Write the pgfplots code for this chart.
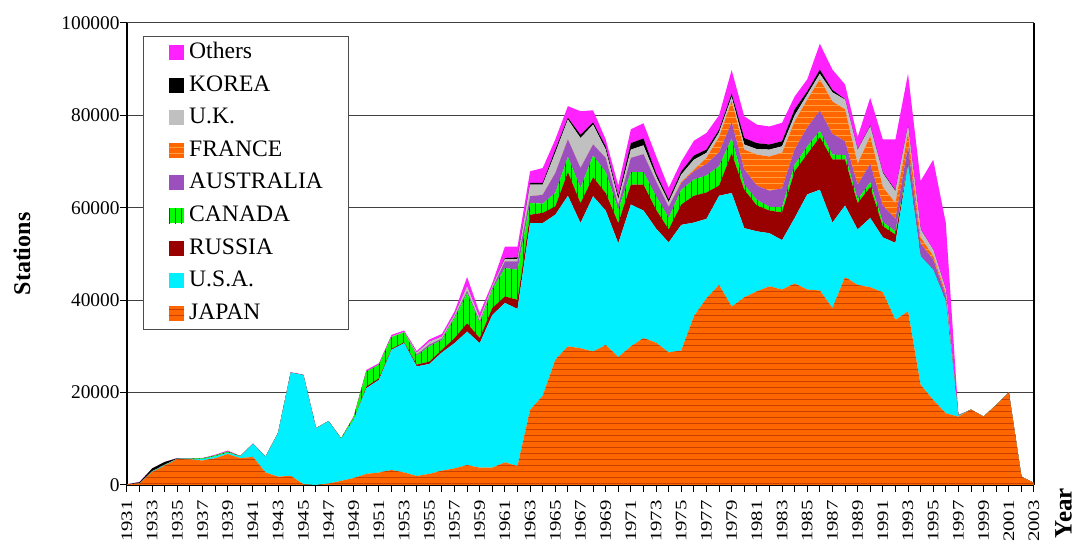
\documentclass[border=0pt]{standalone}
\usepackage{fontspec}
\setmainfont{Liberation Serif}
\usepackage{pgfplots}
\pgfplotsset{compat=1.18}
\usepackage{pgfplotstable}
\usetikzlibrary{patterns}

\definecolor{jp}{HTML}{FF6600}
\definecolor{jpd}{HTML}{C84000}
\definecolor{us}{HTML}{00F0FF}
\definecolor{ru}{HTML}{990000}
\definecolor{ca}{HTML}{00FF00}
\definecolor{cad}{HTML}{006600}
\definecolor{au}{HTML}{9C50BE}
\definecolor{fr}{HTML}{FF6600}
\definecolor{frl}{HTML}{FFA040}
\definecolor{uk}{HTML}{C0C0C0}
\definecolor{ko}{HTML}{000000}
\definecolor{ot}{HTML}{FF22FF}

\pgfplotstableread{
year J U R C A F K KO O
1931 100 0 0 0 0 0 0 50 0
1932 300 0 0 0 0 0 0 300 100
1933 2800 100 0 0 0 0 100 600 0
1934 4200 100 0 0 0 0 100 600 0
1935 5600 100 0 0 0 0 0 100 50
1936 5550 150 0 50 0 0 0 0 50
1937 5300 300 0 150 0 0 0 0 100
1938 5800 400 0 200 0 0 0 0 150
1939 6700 300 0 200 50 0 0 0 200
1940 5800 400 0 50 0 0 0 0 50
1941 6100 2800 0 0 0 0 0 0 100
1942 2700 3400 0 0 0 0 0 0 50
1943 1800 9500 0 0 0 0 0 0 50
1944 2000 22300 0 0 0 0 0 0 100
1945 150 23650 0 0 0 0 0 0 100
1946 0 12300 0 0 0 0 0 0 0
1947 300 13500 0 0 0 0 0 0 50
1948 900 9100 0 100 0 0 0 0 0
1949 1500 12600 0 600 0 0 0 0 200
1950 2400 18550 350 3260 0 0 0 0 340
1951 2700 20050 350 2900 0 0 100 0 260
1952 3250 26000 220 2530 0 0 150 0 350
1953 2700 28000 200 2100 0 0 150 0 290
1954 1950 23700 400 1900 300 0 400 0 350
1955 2400 23800 500 3300 400 0 600 0 500
1956 3100 25600 550 2150 300 0 440 0 560
1957 3600 27100 1080 4320 300 0 440 0 720
1958 4300 28900 1800 6500 500 0 1000 0 2000
1959 3750 26950 1100 3200 400 0 700 0 1100
1960 3750 33050 1500 3950 400 0 450 0 600
1961 4900 34500 1400 6150 1450 0 500 200 2500
1962 4100 34000 2000 6500 1800 0 500 400 2300
1963 16250 40450 1800 2500 1500 0 2500 400 2500
1964 19300 37400 2200 2000 1900 0 2200 400 3200
1965 27100 31400 1800 2900 4300 0 4400 700 2200
1966 30000 32600 5100 3300 3800 0 4300 400 2500
1967 29600 27100 4300 3300 4300 0 6500 700 5100
1968 28900 33600 4100 4700 2400 0 4300 500 2600
1969 30300 29100 3800 4500 3100 0 1800 700 1500
1970 27700 24600 4400 2900 1100 0 1100 700 2300
1971 30000 30700 4300 2700 3100 0 1800 1400 3000
1972 31800 27600 5600 2700 3900 0 1900 1500 3300
1973 30800 24700 4100 2900 3200 0 1100 700 3700
1974 28700 23800 2800 2500 2400 0 1000 600 2500
1975 29100 27200 4400 3200 1500 200 1600 700 2100
1976 36500 20300 5800 3500 1800 300 2200 900 3200
1977 40400 17200 5700 3700 2500 1300 1100 700 3600
1978 43300 19300 2200 4200 3000 3300 1000 600 3100
1979 38600 24600 8600 3200 3500 4600 900 700 5100
1980 40600 15000 8300 1100 3300 4300 1100 1400 4700
1981 41900 13000 5600 1200 3100 6700 1200 1300 4000
1982 43000 11500 4900 800 3500 7400 1500 1100 3900
1983 42300 10700 6000 1100 4100 7700 1400 1100 4000
1984 43600 14200 10100 1400 3300 6100 1300 1300 2800
1985 42300 20600 8700 1700 4100 6000 1100 700 2600
1986 42100 21800 11400 1300 4400 6800 1200 900 5600
1987 38300 18500 13700 1000 4500 7000 2000 500 4400
1988 45000 15500 10000 900 3000 6900 2100 100 3200
1989 43300 12000 5700 800 3200 4500 3000 100 2700
1990 42800 15000 6700 1000 4000 6000 2100 200 6000
1991 41700 11900 2400 900 3600 4000 3000 200 7100
1992 35700 16700 1800 700 2700 3400 2600 200 11000
1993 37600 31600 200 100 3800 2900 1400 100 11300
1994 21700 27800 0 0 2700 1400 1700 100 10400
1995 18400 28200 0 0 2200 800 1300 0 19500
1996 15500 24300 0 0 1200 500 800 0 14400
1997 14800 200 0 0 0 0 0 0 200
1998 16300 0 0 0 0 0 0 0 0
1999 14800 0 0 0 0 0 0 0 0
2000 17300 0 0 0 0 0 0 0 0
2001 20000 0 0 0 0 0 0 0 0
2002 1800 0 0 0 0 0 0 0 0
2003 400 0 0 0 0 0 0 0 0
}\data

\begin{document}
\begin{tikzpicture}
\path[use as bounding box] (-63.5pt,-29.5pt) rectangle (475pt,242.5pt);
\begin{axis}[
  at={(0pt,0pt)}, anchor=south west,
  scale only axis, width=453.5pt, height=231pt,
  xmin=1931, xmax=2003, ymin=0, ymax=100000,
  stack plots=y,
  axis x line*=bottom, axis y line*=box,
  axis line style={-, line width=1pt, black},
  every non boxed x axis/.append style={xtick align=outside},
  every non boxed y axis/.append style={ytick align=outside},
  tick align=outside,
  xtick={1931,1933,...,2003}, minor xtick={1932,1934,...,2002},
  ytick={0,20000,...,100000},
  ytick pos=left,
  major tick length=3.5pt, minor tick length=3.5pt,
  tick style={black, line width=0.5pt},
  ymajorgrids, grid style={black!75, line width=0.5pt},
  scaled ticks=false,
  /pgf/number format/fixed,
  /pgf/number format/precision=0,
  /pgf/number format/1000 sep={},
  /pgf/number format/assume math mode=true,
  xticklabel={\scalebox{1.3}[1]{\pgfmathprintnumber{\tick}}},
  xticklabel shift=4pt,
  xticklabel style={rotate=90, anchor=east, inner sep=0pt, font=\fontsize{8}{10}\selectfont},
  yticklabel style={anchor=east, inner sep=0pt, font=\fontsize{9.7}{12}\selectfont},
  ylabel={Stations},
  ylabel style={at={(axis description cs:-0.1158,0.5)}, anchor=center, font=\fontsize{12}{14}\selectfont\bfseries},
  xlabel={Year},
  xlabel style={at={(axis description cs:1.0325,-0.061)}, anchor=center, rotate=90, inner sep=0pt, font=\fontsize{12.5}{14}\selectfont\bfseries},
  reverse legend,
  legend image code/.code={\path[#1] (0pt,-3.75pt) rectangle (7.5pt,3.75pt);},
  legend style={at={(0.0173,0.9725)}, anchor=north west, draw=black!70, line width=0.5pt, fill=white,
    inner xsep=13pt, inner ysep=2.7pt, row sep=5.3pt, column sep=2.5pt,
    font=\fontsize{11.8}{14}\selectfont,
    nodes={inner sep=0pt, text height=8.5pt, text depth=2.5pt}},
  legend cell align=left,
]
\addplot[fill=jp, draw=none, postaction={pattern=horizontal lines, pattern color=jpd}] table[x=year,y=J]{\data} \closedcycle;
\addlegendentry{JAPAN}
\addplot[fill=us, draw=none] table[x=year,y=U]{\data} \closedcycle;
\addlegendentry{U.S.A.}
\addplot[fill=ru, draw=none] table[x=year,y=R]{\data} \closedcycle;
\addlegendentry{RUSSIA}
\addplot[fill=ca, draw=none, postaction={pattern=vertical lines, pattern color=cad}] table[x=year,y=C]{\data} \closedcycle;
\addlegendentry{CANADA}
\addplot[fill=au, draw=none] table[x=year,y=A]{\data} \closedcycle;
\addlegendentry{AUSTRALIA}
\addplot[fill=fr, draw=none, postaction={pattern=horizontal lines, pattern color=frl}] table[x=year,y=F]{\data} \closedcycle;
\addlegendentry{FRANCE}
\addplot[fill=uk, draw=none] table[x=year,y=K]{\data} \closedcycle;
\addlegendentry{U.K.}
\addplot[fill=ko, draw=none] table[x=year,y=KO]{\data} \closedcycle;
\addlegendentry{KOREA}
\addplot[fill=ot, draw=none] table[x=year,y=O]{\data} \closedcycle;
\addlegendentry{Others}
\end{axis}
\end{tikzpicture}
\end{document}
